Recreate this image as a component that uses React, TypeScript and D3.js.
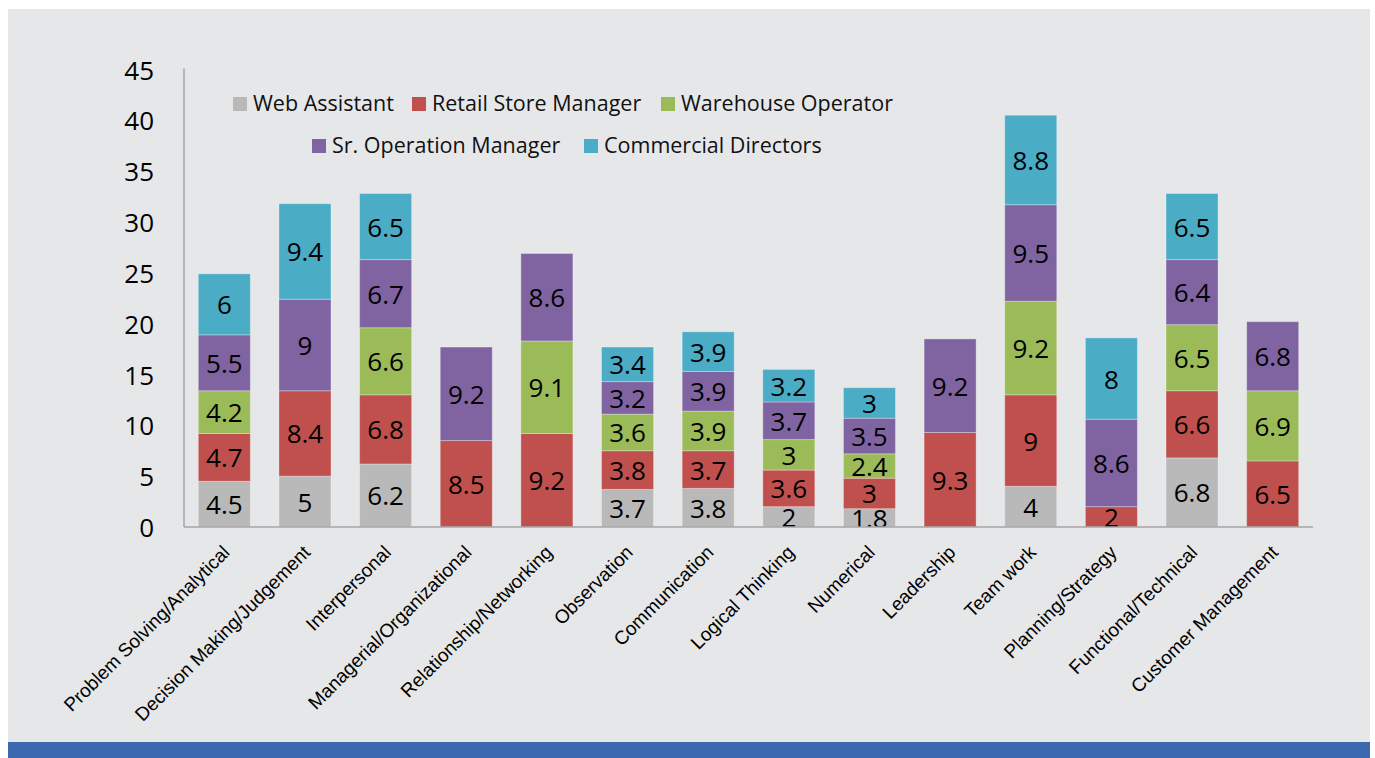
import React from "react";
import * as d3 from "d3";

const categories = [
  "Problem Solving/Analytical",
  "Decision Making/Judgement",
  "Interpersonal",
  "Managerial/Organizational",
  "Relationship/Networking",
  "Observation",
  "Communication",
  "Logical Thinking",
  "Numerical",
  "Leadership",
  "Team work",
  "Planning/Strategy",
  "Functional/Technical",
  "Customer Management",
];

const seriesNames = [
  "Web Assistant",
  "Retail Store Manager",
  "Warehouse Operator",
  "Sr. Operation Manager",
  "Commercial Directors",
];

const webAssistant = [4.5, 5, 6.2, 0, 0, 3.7, 3.8, 2, 1.8, 0, 4, 0, 6.8, 0];
const retailStoreManager = [4.7, 8.4, 6.8, 8.5, 9.2, 3.8, 3.7, 3.6, 3, 9.3, 9, 2, 6.6, 6.5];
const warehouseOperator = [4.2, 0, 6.6, 0, 9.1, 3.6, 3.9, 3, 2.4, 0, 9.2, 0, 6.5, 6.9];
const srOperationManager = [5.5, 9, 6.7, 9.2, 8.6, 3.2, 3.9, 3.7, 3.5, 9.2, 9.5, 8.6, 6.4, 6.8];
const commercialDirectors = [6, 9.4, 6.5, 0, 0, 3.4, 3.9, 3.2, 3, 0, 8.8, 8, 6.5, 0];

const yTicks = [0, 5, 10, 15, 20, 25, 30, 35, 40, 45];

const colors = ["#b9b9b9", "#c0504d", "#9bbb59", "#8064a2", "#4bacc6"];

const seriesValues = [webAssistant, retailStoreManager, warehouseOperator, srOperationManager, commercialDirectors];

export default function App() {
  const W = 1375;
  const H = 758;
  const left = 184;
  const right = 1313;
  const bottom = 527;
  const top = 69.5;

  const rows = categories.map((c, i) => {
    const r: any = { category: c };
    seriesNames.forEach((s, k) => (r[s] = seriesValues[k][i]));
    return r;
  });
  const stacked = d3.stack<any>().keys(seriesNames)(rows);

  const x = d3.scaleBand<string>().domain(categories).range([left, right]).paddingInner(0.355).paddingOuter(0.1775);
  const y = d3.scaleLinear().domain([0, 45]).range([bottom, top]);

  const legendItems = [
    { name: seriesNames[0], color: colors[0], x: 233, y: 97 },
    { name: seriesNames[1], color: colors[1], x: 412, y: 97 },
    { name: seriesNames[2], color: colors[2], x: 661, y: 97 },
    { name: seriesNames[3], color: colors[3], x: 312, y: 139 },
    { name: seriesNames[4], color: colors[4], x: 584, y: 139 },
  ];

  return (
    <svg
      width={W}
      height={H}
      style={{ position: "absolute", left: 0, top: 0, display: "block" }}
      xmlns="http://www.w3.org/2000/svg"
    >
      <defs>
        <clipPath id="plotClip">
          <rect x={left} y={0} width={right - left} height={bottom} />
        </clipPath>
      </defs>
      <rect x={0} y={0} width={W} height={H} fill="#ffffff" />
      <rect x={8} y={9} width={1362} height={733} fill="#e6e7e9" />
      <rect x={8} y={742} width={1362} height={16} fill="#3c68b0" />

      {/* bars */}
      {stacked.map((layer, k) => (
        <g key={layer.key}>
          {layer.map((d, i) => {
            const v = d[1] - d[0];
            if (v <= 0) return null;
            return (
              <rect
                key={i}
                x={x(categories[i])}
                y={y(d[1])}
                width={x.bandwidth()}
                height={y(d[0]) - y(d[1])}
                fill={colors[k]}
                stroke="rgba(255,255,255,0.3)"
                strokeWidth={1}
              />
            );
          })}
        </g>
      ))}

      {/* value labels */}
      <g clipPath="url(#plotClip)" fontFamily="'Open Sans', sans-serif" fontSize={26} fill="#000">
        {stacked.map((layer, k) =>
          layer.map((d, i) => {
            const v = d[1] - d[0];
            if (v <= 0) return null;
            return (
              <text
                key={layer.key + i}
                x={(x(categories[i]) as number) + x.bandwidth() / 2}
                y={(y(d[0]) + y(d[1])) / 2}
                textAnchor="middle"
                dominantBaseline="central"
              >
                {String(v.toFixed(1)).replace(/\.0$/, "")}
              </text>
            );
          })
        )}
      </g>

      {/* axes */}
      <line x1={left} x2={left} y1={top - 1} y2={bottom} stroke="#a6a6a6" strokeWidth={1.5} />
      <line x1={left} x2={right} y1={bottom} y2={bottom} stroke="#a6a6a6" strokeWidth={1.5} />

      <g fontFamily="'Open Sans', sans-serif" fontSize={26} fill="#000">
        {yTicks.map((t) => (
          <text key={t} x={154} y={y(t)} textAnchor="end" dominantBaseline="central">
            {t}
          </text>
        ))}
      </g>

      <g fontFamily="'Liberation Sans', Arial, sans-serif" fontSize={19} fill="#000">
        {categories.map((c) => {
          const cx = (x(c) as number) + x.bandwidth() / 2 - 3;
          const cy = bottom + 17;
          return (
            <text key={c} transform={`translate(${cx},${cy}) rotate(-45)`} textAnchor="end" dy="0.71em">
              {c}
            </text>
          );
        })}
      </g>

      {/* legend */}
      <g fontFamily="'Open Sans', sans-serif" fontSize={21.5} fill="#111">
        {legendItems.map((it) => (
          <g key={it.name}>
            <rect x={it.x} y={it.y} width={14} height={14} fill={it.color} />
            <text x={it.x + 20} y={it.y + 14}>
              {it.name}
            </text>
          </g>
        ))}
      </g>
    </svg>
  );
}
